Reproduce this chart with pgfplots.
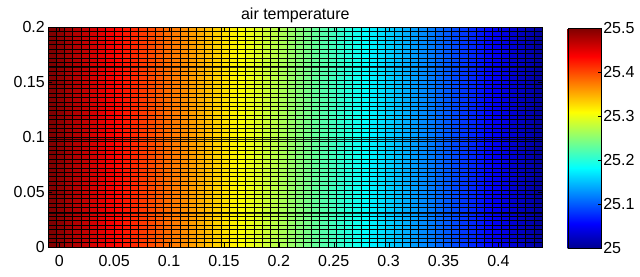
\documentclass[border=0pt]{standalone}
\usepackage{pgfplots}
\pgfplotsset{compat=1.18}
\usepackage{fontspec}
\setmainfont{Liberation Sans}
\pgfplotsset{colormap={mjet}{rgb(0pt)=(0,0,0.5625); rgb(7pt)=(0,0,1); rgb(23pt)=(0,1,1); rgb(39pt)=(1,1,0); rgb(55pt)=(1,0,0); rgb(63pt)=(0.5,0,0)}}
\newcommand{\tf}{\fontsize{16}{19}\selectfont}
\begin{document}
\begin{tikzpicture}
\useasboundingbox (-48.3pt,-28.7pt) rectangle (591.7pt,247.3pt);
\begin{axis}[
  at={(0,0)}, anchor=south west,
  scale only axis, width=494pt, height=220pt,
  xmin=-0.01, xmax=0.44, ymin=0, ymax=0.2,
  xtick={0,0.05,0.1,0.15,0.2,0.25,0.3,0.35,0.4},
  ytick={0,0.05,0.1,0.15,0.2},
  xticklabels={0,0.05,0.1,0.15,0.2,0.25,0.3,0.35,0.4},
  yticklabels={0,0.05,0.1,0.15,0.2},
  scaled ticks=false,
  tick align=inside, major tick length=4pt, tick style={black},
  tick label style={font=\tf},
  xticklabel style={yshift=-4pt},
  title={air temperature},
  title style={at={(0.5,1)}, anchor=base, yshift=2pt, font=\tf},
  axis on top,
  axis line style={black},
  extra x ticks={-0.0025,0.0050,0.0125,0.0200,0.0275,0.0350,0.0425,0.0500,0.0575,0.0650,0.0725,0.0800,0.0875,0.0950,0.1025,0.1100,0.1175,0.1250,0.1325,0.1400,0.1475,0.1550,0.1625,0.1700,0.1775,0.1850,0.1925,0.2000,0.2075,0.2150,0.2225,0.2300,0.2375,0.2450,0.2525,0.2600,0.2675,0.2750,0.2825,0.2900,0.2975,0.3050,0.3125,0.3200,0.3275,0.3350,0.3425,0.3500,0.3575,0.3650,0.3725,0.3800,0.3875,0.3950,0.4025,0.4100,0.4175,0.4250,0.4325},
  extra x tick labels={},
  extra y ticks={0.004,0.008,0.012,0.016,0.020,0.024,0.028,0.032,0.036,0.040,0.044,0.048,0.052,0.056,0.060,0.064,0.068,0.072,0.076,0.080,0.084,0.088,0.092,0.096,0.100,0.104,0.108,0.112,0.116,0.120,0.124,0.128,0.132,0.136,0.140,0.144,0.148,0.152,0.156,0.160,0.164,0.168,0.172,0.176,0.180,0.184,0.188,0.192,0.196},
  extra y tick labels={},
  extra tick style={grid=major, major tick length=0pt, major grid style={black, line width=1pt}},
  colormap name=mjet,
  point meta min=25, point meta max=25.5,
  colorbar,
  colorbar/width=33pt,
  colorbar style={at={(parent axis.north east)}, anchor=north west, xshift=16.9pt, yshift=-1pt,
    height=220pt,
    ytick={25,25.1,25.2,25.3,25.4,25.5},
    yticklabels={25,25.1,25.2,25.3,25.4,25.5},
    ytick pos=right,
    tick align=inside, major tick length=3pt,
    yticklabel style={font=\tf, xshift=-1pt},
    axis line style={black}},
]
\addplot[surf, shader=flat corner, mesh/rows=2, mesh/cols=61, point meta=explicit]
table[x=x, y=y, meta=T] {
x y T
-0.0100 0 25.500
-0.0025 0 25.492
0.0050 0 25.483
0.0125 0 25.475
0.0200 0 25.467
0.0275 0 25.458
0.0350 0 25.450
0.0425 0 25.442
0.0500 0 25.433
0.0575 0 25.425
0.0650 0 25.417
0.0725 0 25.408
0.0800 0 25.400
0.0875 0 25.392
0.0950 0 25.383
0.1025 0 25.375
0.1100 0 25.367
0.1175 0 25.358
0.1250 0 25.350
0.1325 0 25.342
0.1400 0 25.333
0.1475 0 25.325
0.1550 0 25.317
0.1625 0 25.308
0.1700 0 25.300
0.1775 0 25.292
0.1850 0 25.283
0.1925 0 25.275
0.2000 0 25.267
0.2075 0 25.258
0.2150 0 25.250
0.2225 0 25.242
0.2300 0 25.233
0.2375 0 25.225
0.2450 0 25.217
0.2525 0 25.208
0.2600 0 25.200
0.2675 0 25.192
0.2750 0 25.183
0.2825 0 25.175
0.2900 0 25.167
0.2975 0 25.158
0.3050 0 25.150
0.3125 0 25.142
0.3200 0 25.133
0.3275 0 25.125
0.3350 0 25.117
0.3425 0 25.108
0.3500 0 25.100
0.3575 0 25.092
0.3650 0 25.083
0.3725 0 25.075
0.3800 0 25.067
0.3875 0 25.058
0.3950 0 25.050
0.4025 0 25.042
0.4100 0 25.033
0.4175 0 25.025
0.4250 0 25.017
0.4325 0 25.008
0.4400 0 25.000
-0.0100 0.2 25.500
-0.0025 0.2 25.492
0.0050 0.2 25.483
0.0125 0.2 25.475
0.0200 0.2 25.467
0.0275 0.2 25.458
0.0350 0.2 25.450
0.0425 0.2 25.442
0.0500 0.2 25.433
0.0575 0.2 25.425
0.0650 0.2 25.417
0.0725 0.2 25.408
0.0800 0.2 25.400
0.0875 0.2 25.392
0.0950 0.2 25.383
0.1025 0.2 25.375
0.1100 0.2 25.367
0.1175 0.2 25.358
0.1250 0.2 25.350
0.1325 0.2 25.342
0.1400 0.2 25.333
0.1475 0.2 25.325
0.1550 0.2 25.317
0.1625 0.2 25.308
0.1700 0.2 25.300
0.1775 0.2 25.292
0.1850 0.2 25.283
0.1925 0.2 25.275
0.2000 0.2 25.267
0.2075 0.2 25.258
0.2150 0.2 25.250
0.2225 0.2 25.242
0.2300 0.2 25.233
0.2375 0.2 25.225
0.2450 0.2 25.217
0.2525 0.2 25.208
0.2600 0.2 25.200
0.2675 0.2 25.192
0.2750 0.2 25.183
0.2825 0.2 25.175
0.2900 0.2 25.167
0.2975 0.2 25.158
0.3050 0.2 25.150
0.3125 0.2 25.142
0.3200 0.2 25.133
0.3275 0.2 25.125
0.3350 0.2 25.117
0.3425 0.2 25.108
0.3500 0.2 25.100
0.3575 0.2 25.092
0.3650 0.2 25.083
0.3725 0.2 25.075
0.3800 0.2 25.067
0.3875 0.2 25.058
0.3950 0.2 25.050
0.4025 0.2 25.042
0.4100 0.2 25.033
0.4175 0.2 25.025
0.4250 0.2 25.017
0.4325 0.2 25.008
0.4400 0.2 25.000
};
\addplot[black, line width=1.4pt, opacity=0.8, forget plot] coordinates {(-0.01,0.031) (0.44,0.031)};
\addplot[black, line width=1.4pt, opacity=0.8, forget plot] coordinates {(-0.01,0.098) (0.44,0.098)};
\addplot[black, line width=1.4pt, opacity=0.8, forget plot] coordinates {(-0.01,0.164) (0.44,0.164)};
\end{axis}
\end{tikzpicture}
\end{document}
